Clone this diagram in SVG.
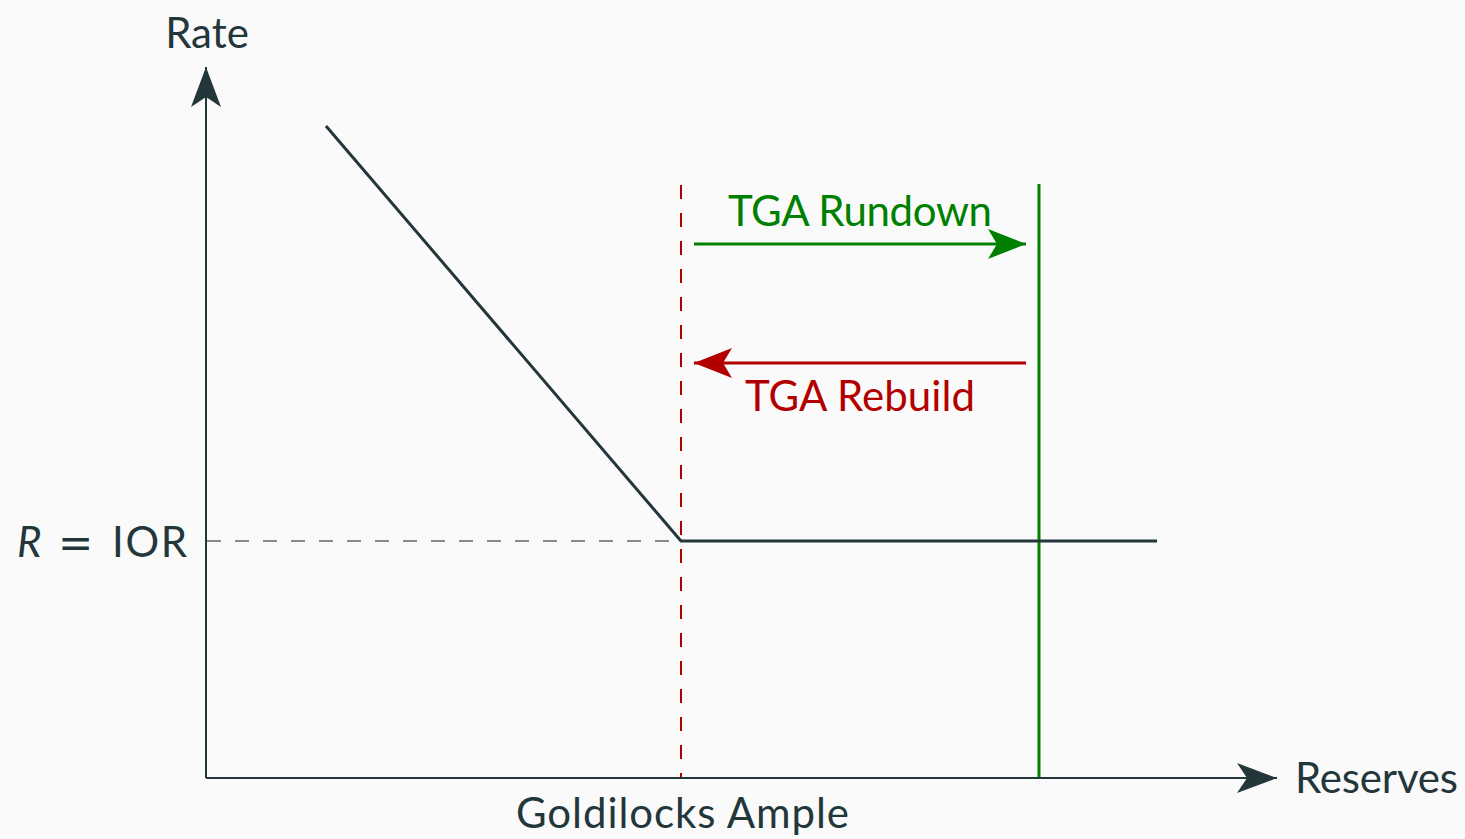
<svg xmlns="http://www.w3.org/2000/svg" width="1465" height="839" viewBox="0 0 1465 839">
  <style>
    text { font-family: Lato, "Open Sans", "DejaVu Sans", sans-serif; font-size: 42px; fill: #23373b; }
    .eq { font-family: "DejaVu Sans", sans-serif; }
    .axis { stroke: #23373b; stroke-width: 2; fill: none; }
    .curve { stroke: #23373b; stroke-width: 3; fill: none; stroke-linejoin: round; }
    .green { fill: #008000; }
    .red { fill: #b20000; }
  </style>
  <defs>
    <marker id="stealth-dark" viewBox="0 0 40 30" refX="40" refY="15" markerWidth="40" markerHeight="30" markerUnits="userSpaceOnUse" orient="auto">
      <path d="M0,0 L40,15 L0,30 L10,15 Z" fill="#23373b"/>
    </marker>
    <marker id="stealth-green" viewBox="0 0 38 30" refX="38" refY="15" markerWidth="38" markerHeight="30" markerUnits="userSpaceOnUse" orient="auto">
      <path d="M0,0 L38,15 L0,30 L9,15 Z" fill="#008000"/>
    </marker>
    <marker id="stealth-red" viewBox="0 0 38 30" refX="38" refY="15" markerWidth="38" markerHeight="30" markerUnits="userSpaceOnUse" orient="auto">
      <path d="M0,0 L38,15 L0,30 L9,15 Z" fill="#b20000"/>
    </marker>
  </defs>
  <rect width="1465" height="839" fill="#fafafa"/>

  <g id="connectors">
    <!-- reference lines -->
    <line x1="207" y1="541" x2="681" y2="541" stroke="#8a8a8a" stroke-width="2" stroke-dasharray="14 14"/>
    <line x1="681" y1="185" x2="681" y2="778" stroke="#b20000" stroke-width="2" stroke-dasharray="14 14"/>
    <line x1="1039" y1="184" x2="1039" y2="778" stroke="#008000" stroke-width="3"/>
    <!-- axes -->
    <line class="axis" x1="206" y1="778" x2="206" y2="67" marker-end="url(#stealth-dark)"/>
    <line class="axis" x1="206" y1="778" x2="1277" y2="778" marker-end="url(#stealth-dark)"/>
    <!-- reserve demand curve -->
    <polyline class="curve" points="326,126 681,541 1157,541"/>
    <!-- shifts -->
    <line x1="694" y1="244" x2="1026" y2="244" stroke="#008000" stroke-width="3" marker-end="url(#stealth-green)"/>
    <line x1="1026" y1="363" x2="694" y2="363" stroke="#b20000" stroke-width="3" marker-end="url(#stealth-red)"/>
  </g>

  <g id="label-rate"><text x="207" y="48" text-anchor="middle">Rate</text></g>
  <g id="label-reserves"><text x="1295" y="793" textLength="163">Reserves</text></g>
  <g id="label-ior"><text y="557"><tspan x="17" font-style="italic">R</tspan><tspan class="eq" x="58">=</tspan><tspan x="112" textLength="75">IOR</tspan></text></g>
  <g id="label-goldilocks"><text x="516" y="828" textLength="333">Goldilocks Ample</text></g>
  <g id="label-rundown"><text class="green" x="728" y="226" textLength="264">TGA Rundown</text></g>
  <g id="label-rebuild"><text class="red" x="745" y="411" textLength="230">TGA Rebuild</text></g>
</svg>
